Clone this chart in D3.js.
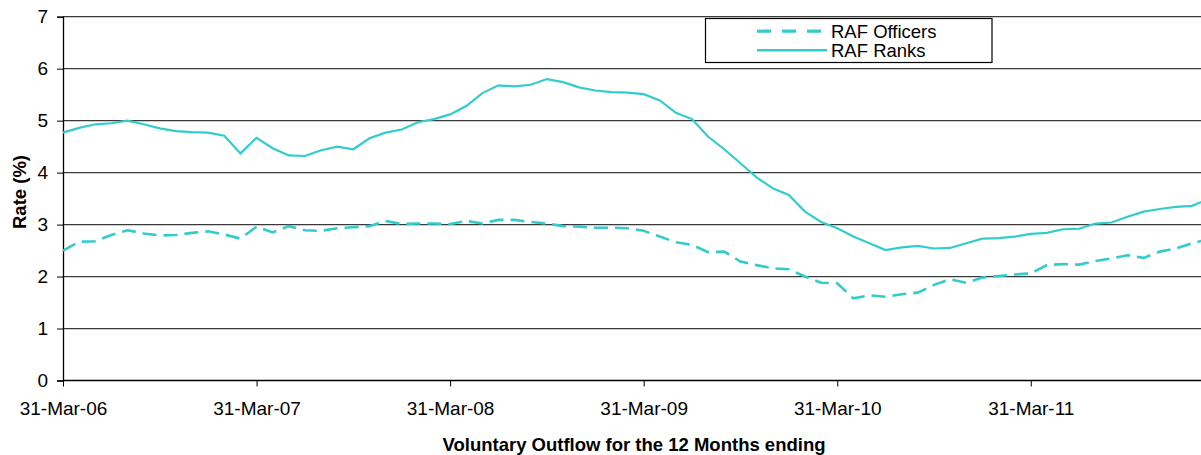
<!DOCTYPE html>
<html>
<head>
<meta charset="utf-8">
<script src="https://cdn.jsdelivr.net/npm/d3@7"></script>
<style>
  html, body { margin: 0; padding: 0; background: #fff; }
  svg { display: block; font-family: "Liberation Sans", Arial, sans-serif; }
</style>
</head>
<body>
<svg id="chart" width="1201" height="455"></svg>
<script>
// Months: 12-month periods ending each month, Mar-06 .. Feb-12
const months = [
  "Mar-06","Apr-06","May-06","Jun-06","Jul-06","Aug-06","Sep-06","Oct-06","Nov-06","Dec-06","Jan-07","Feb-07",
  "Mar-07","Apr-07","May-07","Jun-07","Jul-07","Aug-07","Sep-07","Oct-07","Nov-07","Dec-07","Jan-08","Feb-08",
  "Mar-08","Apr-08","May-08","Jun-08","Jul-08","Aug-08","Sep-08","Oct-08","Nov-08","Dec-08","Jan-09","Feb-09",
  "Mar-09","Apr-09","May-09","Jun-09","Jul-09","Aug-09","Sep-09","Oct-09","Nov-09","Dec-09","Jan-10","Feb-10",
  "Mar-10","Apr-10","May-10","Jun-10","Jul-10","Aug-10","Sep-10","Oct-10","Nov-10","Dec-10","Jan-11","Feb-11",
  "Mar-11","Apr-11","May-11","Jun-11","Jul-11","Aug-11","Sep-11","Oct-11","Nov-11","Dec-11","Jan-12","Feb-12"
];

const officers = [
  2.50,2.67,2.68,2.80,2.89,2.83,2.79,2.80,2.84,2.87,2.81,2.73,
  2.96,2.85,2.97,2.89,2.88,2.93,2.95,2.97,3.07,3.01,3.02,3.02,
  3.01,3.07,3.02,3.09,3.09,3.05,3.02,2.97,2.96,2.94,2.94,2.93,
  2.88,2.77,2.66,2.61,2.47,2.48,2.29,2.22,2.16,2.14,2.00,1.88,
  1.87,1.58,1.64,1.61,1.66,1.69,1.84,1.95,1.88,1.98,2.01,2.04,
  2.06,2.22,2.24,2.23,2.30,2.35,2.41,2.36,2.48,2.54,2.64,2.72
];

const ranks = [
  4.77,4.86,4.93,4.95,5.00,4.93,4.85,4.80,4.78,4.77,4.71,4.37,
  4.67,4.47,4.33,4.32,4.43,4.50,4.45,4.66,4.77,4.83,4.97,5.03,
  5.12,5.28,5.53,5.68,5.66,5.69,5.80,5.74,5.64,5.58,5.55,5.54,
  5.51,5.39,5.15,5.03,4.69,4.45,4.18,3.91,3.70,3.57,3.25,3.05,
  2.93,2.77,2.64,2.51,2.56,2.59,2.54,2.55,2.64,2.73,2.74,2.77,
  2.82,2.84,2.91,2.92,3.02,3.04,3.15,3.25,3.30,3.34,3.36,3.49
];

const tickMonths = ["Mar-06","Mar-07","Mar-08","Mar-09","Mar-10","Mar-11"];
const tickLabels = ["31-Mar-06","31-Mar-07","31-Mar-08","31-Mar-09","31-Mar-10","31-Mar-11"];
const yTicks = [0,1,2,3,4,5,6,7];
const seriesNames = ["RAF Officers","RAF Ranks"];

const color = "#33CCCC";
const svg = d3.select("#chart");

const plot = { left: 63, top: 16.7, bottom: 380.5, right: 1208.2 };

const x = d3.scalePoint().domain(months).range([plot.left, plot.right]);
const y = d3.scaleLinear().domain([0, 7]).range([plot.bottom, plot.top]);

// gridlines
svg.append("g")
  .selectAll("line")
  .data(yTicks.filter(d => d > 0))
  .join("line")
  .attr("x1", plot.left).attr("x2", plot.right)
  .attr("y1", d => y(d)).attr("y2", d => y(d))
  .attr("stroke", "#3a3a3a").attr("stroke-width", 1.3);

// y axis
const yAxis = svg.append("g")
  .attr("transform", `translate(${plot.left},0)`)
  .call(d3.axisLeft(y).tickValues(yTicks).tickSize(6).tickPadding(9).tickFormat(d3.format("d")));
yAxis.select(".domain").attr("stroke", "#000").attr("stroke-width", 1.3);
yAxis.selectAll(".tick line").attr("stroke", "#000");
yAxis.selectAll("text").attr("font-size", 19).attr("fill", "#000")
  .attr("font-family", "Liberation Sans, Arial, sans-serif");

// x axis
const xAxis = svg.append("g")
  .attr("transform", `translate(0,${plot.bottom})`)
  .call(d3.axisBottom(x).tickValues(tickMonths).tickSize(6).tickPadding(15)
    .tickFormat((d, i) => tickLabels[i]));
xAxis.select(".domain").attr("stroke", "#000").attr("stroke-width", 1.3)
  .attr("d", `M${plot.left},0H${plot.right}`);
xAxis.selectAll(".tick line").attr("stroke", "#000");
xAxis.selectAll("text").attr("font-size", 19).attr("fill", "#000")
  .attr("font-family", "Liberation Sans, Arial, sans-serif");

// lines
const line = d3.line().x((d, i) => x(months[i])).y(d => y(d));

svg.append("path")
  .datum(officers)
  .attr("d", line)
  .attr("fill", "none")
  .attr("stroke", color)
  .attr("stroke-width", 2.6)
  .attr("stroke-dasharray", "14,7");

svg.append("path")
  .datum(ranks)
  .attr("d", line)
  .attr("fill", "none")
  .attr("stroke", color)
  .attr("stroke-width", 2.2);

// axis titles
svg.append("text")
  .attr("x", 634).attr("y", 451)
  .attr("text-anchor", "middle")
  .attr("font-size", 18.5).attr("font-weight", "bold")
  .text("Voluntary Outflow for the 12 Months ending");

svg.append("text")
  .attr("transform", "translate(26,192) rotate(-90)")
  .attr("text-anchor", "middle")
  .attr("font-size", 18.5).attr("font-weight", "bold")
  .text("Rate (%)");

// legend
const lg = svg.append("g");
lg.append("rect")
  .attr("x", 705.5).attr("y", 18.5).attr("width", 286.5).attr("height", 44)
  .attr("fill", "#fff").attr("stroke", "#000").attr("stroke-width", 1.2);
const rows = [
  { name: seriesNames[0], dash: "14,11", w: 3.2, cy: 31.2 },
  { name: seriesNames[1], dash: null, w: 2.4, cy: 50.3 }
];
rows.forEach(r => {
  const l = lg.append("line")
    .attr("x1", 757).attr("x2", 827).attr("y1", r.cy).attr("y2", r.cy)
    .attr("stroke", color).attr("stroke-width", r.w);
  if (r.dash) l.attr("stroke-dasharray", r.dash);
  lg.append("text")
    .attr("x", 831).attr("y", r.cy + 6.5)
    .attr("font-size", 18.5)
    .text(r.name);
});
</script>
</body>
</html>
